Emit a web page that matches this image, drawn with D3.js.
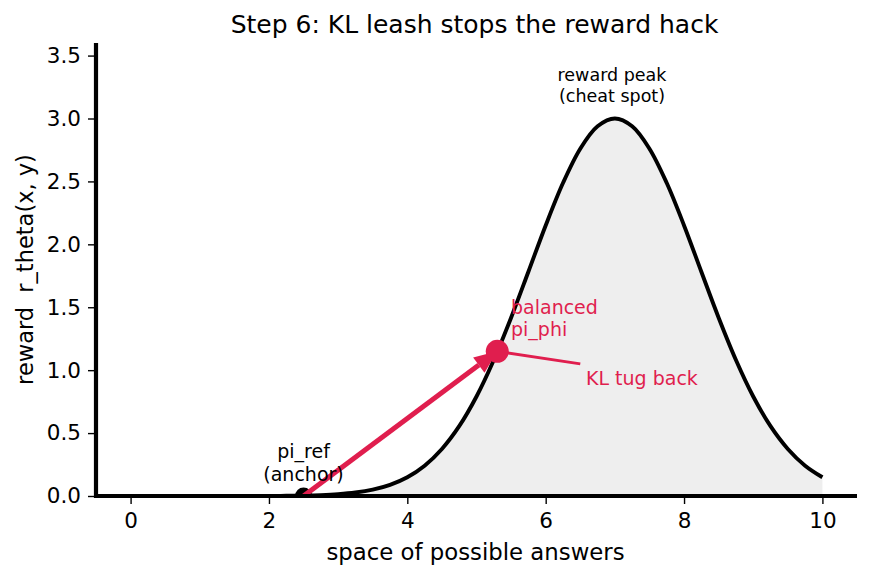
<!DOCTYPE html>
<html><head><meta charset="utf-8">
<script src="https://cdn.jsdelivr.net/npm/d3@7"></script>
<style>body{margin:0;background:#fff}svg{display:block}text{font-family:"DejaVu Sans",sans-serif}</style>
</head><body>
<svg id="c" width="869" height="578"></svg>
<script>
// reward curve readings (x, reward)
const curveX = [0,0.5,1,1.5,2,2.25,2.5,2.75,3,3.25,3.5,3.75,4,4.25,4.5,4.75,5,5.25,5.5,5.75,6,6.25,6.5,6.75,7,7.25,7.5,7.75,8,8.25,8.5,8.75,9,9.25,9.5,9.75,10];
const curveY = [0,0,0.00002,0.0001,0.0007,0.0016,0.0035,0.0073,0.0145,0.0276,0.0506,0.0888,0.149,0.241,0.374,0.555,0.791,1.081,1.417,1.782,2.150,2.487,2.760,2.938,3.0,2.938,2.760,2.487,2.150,1.782,1.417,1.081,0.791,0.555,0.374,0.241,0.149];
const xTicks = [0,2,4,6,8,10];
const yTicks = [0,0.5,1,1.5,2,2.5,3,3.5];
const anchorPt = [2.5, 0];
const phiPt = [5.3, 1.15];
const tugEnd = [6.5, 1.05];

const svg = d3.select("#c");
const L=96, R=857, T=43, B=496;
const x = d3.scaleLinear().domain([-0.5,10.5]).range([L,R]);
const y = d3.scaleLinear().domain([0,3.6]).range([B,T]);
const red = "#e01e4e";

svg.append("defs").append("clipPath").attr("id","clip").append("rect")
  .attr("x",L).attr("y",T).attr("width",R-L).attr("height",B-T);

const data = curveX.map((d,i)=>[d,curveY[i]]);
const g = svg.append("g").attr("clip-path","url(#clip)");
g.append("path").datum(data)
  .attr("d", d3.area().x(d=>x(d[0])).y0(y(0)).y1(d=>y(d[1])).curve(d3.curveCatmullRom))
  .attr("fill","#eeeeee");
g.append("path").datum(data)
  .attr("d", d3.line().x(d=>x(d[0])).y(d=>y(d[1])).curve(d3.curveCatmullRom))
  .attr("fill","none").attr("stroke","#000").attr("stroke-width",3.9);

// black anchor dot
g.append("circle").attr("cx",x(anchorPt[0])).attr("cy",y(anchorPt[1])).attr("r",8.5).attr("fill","#000");

// arrow from anchor to phi
const ax0=x(anchorPt[0]), ay0=y(anchorPt[1]), ax1=x(phiPt[0]), ay1=y(phiPt[1]);
const ang=Math.atan2(ay1-ay0, ax1-ax0);
const hl=23, hw=9.5;
const bx=ax1-hl*Math.cos(ang), by=ay1-hl*Math.sin(ang);
g.append("line").attr("x1",ax0).attr("y1",ay0).attr("x2",bx).attr("y2",by)
  .attr("stroke",red).attr("stroke-width",5);
g.append("path").attr("d",`M${ax1},${ay1}L${bx-hw*Math.sin(ang)},${by+hw*Math.cos(ang)}L${bx+hw*Math.sin(ang)},${by-hw*Math.cos(ang)}Z`)
  .attr("fill",red);
// tug line
g.append("line").attr("x1",x(tugEnd[0])).attr("y1",y(tugEnd[1])).attr("x2",ax1).attr("y2",ay1)
  .attr("stroke",red).attr("stroke-width",3);
g.append("circle").attr("cx",ax1).attr("cy",ay1).attr("r",11.5).attr("fill",red);

// axes
const xa = svg.append("g").attr("transform",`translate(0,${B})`)
  .call(d3.axisBottom(x).tickValues(xTicks).tickFormat(d3.format("d")).tickSize(8).tickPadding(9));
const ya = svg.append("g").attr("transform",`translate(${L},0)`)
  .call(d3.axisLeft(y).tickValues(yTicks).tickFormat(d3.format(".1f")).tickSize(8).tickPadding(7));
[xa,ya].forEach(a=>{a.select(".domain").remove();a.selectAll("line").attr("stroke","#000").attr("stroke-width",1.4);
  a.selectAll("text").attr("font-size",21.5).attr("fill","#000").attr("font-family","DejaVu Sans");});
svg.append("line").attr("x1",L-2).attr("x2",R).attr("y1",B).attr("y2",B).attr("stroke","#000").attr("stroke-width",4.2);
svg.append("line").attr("x1",L).attr("x2",L).attr("y1",T).attr("y2",B+2).attr("stroke","#000").attr("stroke-width",4.2);

// text
svg.append("text").attr("x",(L+R)/2-2).attr("y",33).attr("text-anchor","middle").attr("font-size",25).text("Step 6: KL leash stops the reward hack");
svg.append("text").attr("x",(L+R)/2-1).attr("y",560).attr("text-anchor","middle").attr("font-size",22.8).text("space of possible answers");
svg.append("text").attr("transform",`translate(33,${(T+B)/2}) rotate(-90)`).attr("text-anchor","middle")
  .attr("font-size",22.5).style("white-space","pre").attr("xml:space","preserve").text("reward  r_theta(x, y)");

function multi(lines, px, py, size, color, anchor, lh){
  const t=svg.append("text").attr("font-size",size).attr("fill",color).attr("text-anchor",anchor);
  lines.forEach((s,i)=>t.append("tspan").attr("x",px).attr("y",py+i*lh).text(s));
}
multi(["pi_ref","(anchor)"], x(2.5), 458, 19, "#000", "middle", 23);
multi(["balanced","pi_phi"], 511, 314, 19, red, "start", 21.5);
multi(["KL tug back"], 586, 385, 19, red, "start", 20);
multi(["reward peak","(cheat spot)"], 612, 81, 17.5, "#000", "middle", 21);
</script>
</body></html>
